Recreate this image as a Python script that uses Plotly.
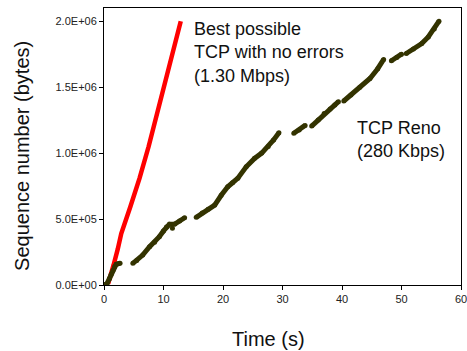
import plotly.graph_objects as go

# Best possible TCP (red)
best_t = [0.7, 1.0, 1.6, 2.3, 2.9, 4.4, 5.98, 7.5, 10.07, 12.9]
best_y = [0.01e6, 0.05e6, 0.15e6, 0.27e6, 0.39e6, 0.59e6, 0.81e6, 1.05e6, 1.5e6, 2.0e6]

# TCP Reno (dark olive), None separates gaps
reno_t = [0, 0.5, 0.93, 1.2, 1.5, 1.8, 2.05, 2.4, 2.7, None,
          4.85, 5.5, 6.5, 7.66, 8.5, 9.3, 10.0, 10.5, 11.0, 11.9, 12.7, 13.55, None,
          11.5, None,
          15.5, 16.5, 17.5, 18.6, 19.7, 20.8, 21.6, 22.5, 23.9, 25.3, 26.5, 27.6, 28.5, 29.4, None,
          31.9, 32.8, 33.8, None,
          34.9, 36.0, 37.0, 38.0, 38.8, 39.4, None,
          40.3, 41.5, 43.0, 44.7, 46.0, 47.0, None,
          48.3, 49.2, 50.0, None,
          50.8, 52.0, 53.4, 54.5, 55.5, 56.3]
reno_y = [0, 0.01e6, 0.05e6, 0.08e6, 0.11e6, 0.14e6, 0.157e6, 0.162e6, 0.165e6, None,
          0.164e6, 0.185e6, 0.227e6, 0.29e6, 0.325e6, 0.366e6, 0.41e6, 0.44e6, 0.46e6, 0.462e6, 0.485e6, 0.51e6, None,
          0.43e6, None,
          0.513e6, 0.545e6, 0.575e6, 0.606e6, 0.68e6, 0.745e6, 0.775e6, 0.81e6, 0.896e6, 0.96e6, 1.0e6, 1.05e6, 1.1e6, 1.154e6, None,
          1.15e6, 1.175e6, 1.21e6, None,
          1.205e6, 1.25e6, 1.3e6, 1.335e6, 1.364e6, 1.39e6, None,
          1.395e6, 1.44e6, 1.5e6, 1.566e6, 1.64e6, 1.71e6, None,
          1.70e6, 1.725e6, 1.75e6, None,
          1.755e6, 1.79e6, 1.83e6, 1.88e6, 1.94e6, 2.0e6]

x_ticks = [0, 10, 20, 30, 40, 50, 60]
y_ticks = [0, 0.5e6, 1.0e6, 1.5e6, 2.0e6]
y_tick_text = ["0.0E+00", "5.0E+05", "1.0E+06", "1.5E+06", "2.0E+06"]

FONT = "Liberation Sans, Arial, sans-serif"

fig = go.Figure()
fig.add_trace(go.Scatter(x=best_t, y=best_y, mode="lines",
                         line=dict(color="#ff0000", width=4.5), hoverinfo="skip"))
fig.add_trace(go.Scatter(x=reno_t, y=reno_y, mode="lines+markers",
                         line=dict(color="#333300", width=5),
                         marker=dict(color="#333300", size=5),
                         connectgaps=False, hoverinfo="skip"))

fig.add_annotation(x=14.8, y=2.03e6, xref="x", yref="y", xanchor="left", yanchor="top",
                   text="Best possible<br>TCP with no errors<br>(1.30 Mbps)",
                   showarrow=False, align="left",
                   font=dict(family=FONT, size=18, color="#111"))
fig.add_annotation(x=42.1, y=1.28e6, xref="x", yref="y", xanchor="left", yanchor="top",
                   text="TCP Reno<br>(280 Kbps)",
                   showarrow=False, align="left",
                   font=dict(family=FONT, size=18, color="#111"))

# axis titles as annotations (offset from the plot centre as in the original)
fig.add_annotation(x=0, y=0.466, xref="paper", yref="paper", xanchor="center", yanchor="middle",
                   xshift=-82, textangle=-90, showarrow=False,
                   text="Sequence number (bytes)",
                   font=dict(family=FONT, size=20, color="#111"))
fig.add_annotation(x=0.461, y=0, xref="paper", yref="paper", xanchor="center", yanchor="middle",
                   yshift=-54, showarrow=False,
                   text="Time (s)",
                   font=dict(family=FONT, size=20, color="#111"))

axis_common = dict(showline=True, linecolor="black", linewidth=1, mirror=True,
                   showgrid=False, zeroline=False, ticks="outside", ticklen=4,
                   tickcolor="black", ticklabeloverflow="allow", automargin=False,
                   tickfont=dict(family=FONT, size=11, color="#222"))

fig.update_xaxes(range=[0, 60], tickvals=x_ticks, **axis_common)
fig.update_yaxes(range=[0, 2.1e6], tickvals=y_ticks, ticktext=y_tick_text, **axis_common)

fig.update_layout(width=467, height=351, showlegend=False,
                  margin=dict(l=104, r=6, t=8, b=66),
                  plot_bgcolor="white", paper_bgcolor="white")

# remove the default page margin so the figure fills the window exactly
fig.write_html("out.html", config={"displayModeBar": False},
               post_script="document.body.style.margin='0';document.body.style.overflow='hidden';")
